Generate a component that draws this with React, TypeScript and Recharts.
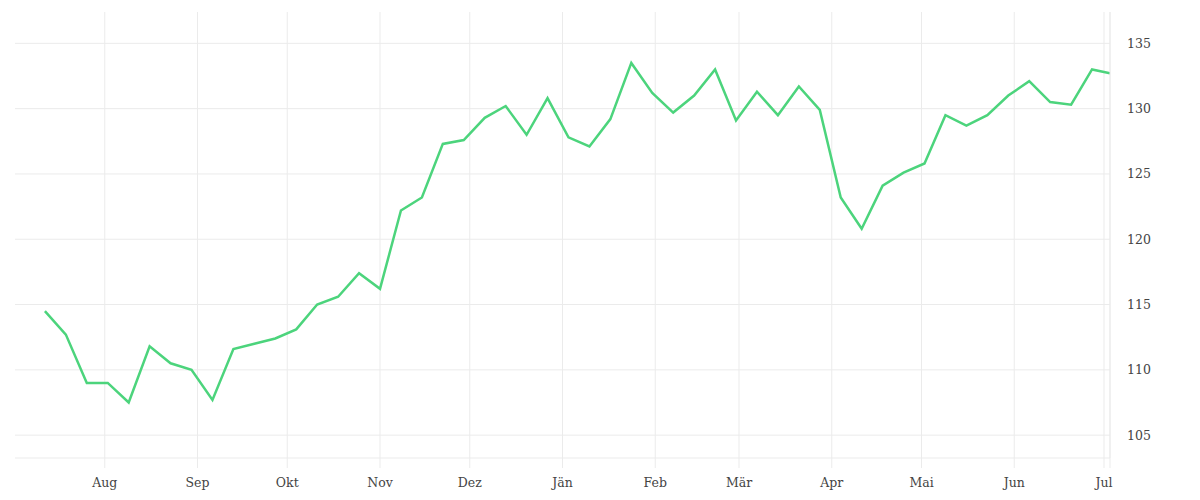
import React from "react";
import { LineChart, Line, XAxis, YAxis, CartesianGrid } from "recharts";

// day offsets from 1 Aug (weekly points, last one is the latest reading)
const days = [
  -20, -13, -6, 1, 8, 15, 22, 29, 36, 43, 50, 57, 64, 71, 78, 85, 92,
  99, 106, 113, 120, 127, 134, 141, 148, 155, 162, 169, 176, 183, 190, 197, 204, 211, 218, 225,
  232, 239, 246, 253, 260, 267, 274, 281, 288, 295, 302, 309, 316, 323, 330, 336,
];

const values = [
  114.5, 112.7, 109.0, 109.0, 107.5, 111.8, 110.5, 110.0, 107.7, 111.6, 112.0, 112.4, 113.1, 115.0, 115.6, 117.4, 116.2,
  122.2, 123.2, 127.3, 127.6, 129.3, 130.2, 128.0, 130.8, 127.8, 127.1, 129.2, 133.5, 131.2, 129.7, 131.0, 133.0, 129.1, 131.3,
  129.5, 131.7, 129.9, 123.2, 120.8, 124.1, 125.1, 125.8, 129.5, 128.7, 129.5, 131.0, 132.1, 130.5, 130.3, 133.0, 132.7,
];

const monthStarts = [0, 31, 61, 92, 122, 153, 184, 212, 243, 273, 304, 334];
const monthLabels = ["Aug", "Sep", "Okt", "Nov", "Dez", "Jän", "Feb", "Mär", "Apr", "Mai", "Jun", "Jul"];
const yTicks = [105, 110, 115, 120, 125, 130, 135];

const xTicks = [...monthStarts, 336];
const xDomain = [-30, 336];
const yDomain = [103.25, 137.4];

const data = days.map((d, i) => ({ day: d, value: values[i] }));

function formatMonth(d: number): string {
  const i = monthStarts.indexOf(d);
  return i >= 0 ? monthLabels[i] : "";
}

const GRID = "#ebebeb";
const TEXT = "#444";
const FONT = "'DejaVu Serif', serif";

/* eslint-disable @typescript-eslint/no-explicit-any */
// grid only on the real ticks, no frame lines at the plot edges
function hGrid({ offset }: any) {
  if (!offset) return [];
  const [lo, hi] = yDomain;
  return yTicks.map((t) => offset.top + (offset.height * (hi - t)) / (hi - lo));
}

function vGrid({ offset }: any) {
  if (!offset) return [];
  const [lo, hi] = xDomain;
  return xTicks.map((t) => offset.left + (offset.width * (t - lo)) / (hi - lo));
}

export default function App() {
  return (
    <div style={{ position: "absolute", left: 0, top: 0, background: "#fff" }}>
      <LineChart
        width={1200}
        height={500}
        data={data}
        margin={{ top: 12, right: 30, bottom: 0, left: 15 }}
      >
        <CartesianGrid
          stroke={GRID}
          strokeWidth={1}
          horizontalCoordinatesGenerator={hGrid}
          verticalCoordinatesGenerator={vGrid}
        />
        <XAxis
          dataKey="day"
          type="number"
          domain={xDomain}
          ticks={xTicks}
          tickFormatter={formatMonth}
          interval={0}
          height={42}
          axisLine={{ stroke: GRID }}
          tickLine={{ stroke: GRID }}
          tickSize={10}
          tickMargin={10}
          tick={{ fill: TEXT, fontSize: 12.5, fontFamily: FONT }}
          allowDataOverflow
        />
        <YAxis
          orientation="right"
          type="number"
          domain={yDomain}
          ticks={yTicks}
          interval={0}
          width={60}
          axisLine={{ stroke: GRID }}
          tickLine={false}
          tickSize={6}
          tickMargin={11}
          tick={{ fill: TEXT, fontSize: 12.5, fontFamily: FONT }}
          allowDataOverflow
        />
        <Line
          type="linear"
          dataKey="value"
          stroke="#4cd47c"
          strokeWidth={2.5}
          dot={false}
          isAnimationActive={false}
        />
      </LineChart>
    </div>
  );
}
